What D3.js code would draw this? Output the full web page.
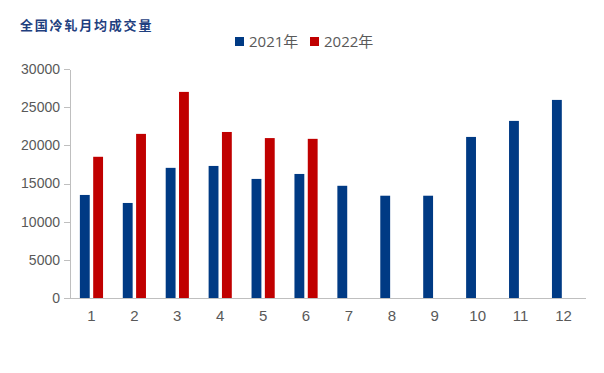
<!DOCTYPE html>
<html lang="zh">
  <head>
    <meta charset="UTF-8" />
    <style>
      body {
        margin: 0;
        background: #fff;
      }
      svg {
        font-family: "Open Sans", "Noto Sans CJK SC", sans-serif;
      }
      .axis text {
        fill: #595959;
        font-size: 14px;
      }
      .axis line,
      .axis path {
        stroke: #bfbfbf;
        shape-rendering: crispEdges;
      }
    </style>
    <script src="https://d3js.org/d3.v7.min.js"></script>
    <title>全国冷轧月均成交量</title>
  </head>
  <body>
    <script>
      var months = ["1", "2", "3", "4", "5", "6", "7", "8", "9", "10", "11", "12"];
      var seriesNames = ["2021年", "2022年"];
      var values2021 = [13500, 12450, 17050, 17300, 15600, 16250, 14700, 13400, 13400, 21100, 23200, 25950];
      var values2022 = [18500, 21500, 27000, 21750, 20950, 20850];
      var yTicks = [0, 5000, 10000, 15000, 20000, 25000, 30000];
      var colors = ["#003a84", "#c00000"];

      var width = 604,
        height = 373;
      var margin = { top: 69, right: 19, bottom: 75, left: 70 };
      var innerW = width - margin.left - margin.right,
        innerH = height - margin.top - margin.bottom;

      var svg = d3
        .select("body")
        .append("svg")
        .attr("width", width)
        .attr("height", height);

      // title
      svg
        .append("text")
        .attr("x", 20)
        .attr("y", 30)
        .style("font-family", "'Noto Sans CJK SC', sans-serif")
        .style("font-weight", "bold")
        .style("font-size", "13px")
        .style("letter-spacing", "1.8px")
        .style("fill", "#1f3f7f")
        .text("全国冷轧月均成交量");

      var g = svg
        .append("g")
        .attr("transform", "translate(" + margin.left + "," + margin.top + ")");

      var x0 = d3
        .scaleBand()
        .domain(months)
        .range([0, innerW])
        .paddingInner(0.46)
        .paddingOuter(0.23);

      var x1 = d3
        .scaleBand()
        .domain(seriesNames)
        .range([0, x0.bandwidth()])
        .paddingInner(0.26);

      var y = d3.scaleLinear().domain([0, 30000]).range([innerH, 0]);

      // y axis
      g.append("g")
        .attr("class", "axis")
        .call(d3.axisLeft(y).tickValues(yTicks).tickSize(6).tickSizeOuter(0).tickPadding(4).tickFormat(d3.format("d")));

      // bars
      var rows = months.map(function (m, i) {
        var r = [{ s: seriesNames[0], v: values2021[i] }];
        if (values2022[i] != null) r.push({ s: seriesNames[1], v: values2022[i] });
        return { m: m, r: r };
      });

      var grp = g
        .selectAll(".grp")
        .data(rows)
        .enter()
        .append("g")
        .attr("transform", function (d) {
          return "translate(" + x0(d.m) + ",0)";
        });

      grp
        .selectAll("rect")
        .data(function (d) {
          return d.r;
        })
        .enter()
        .append("rect")
        .attr("x", function (d) {
          return x1(d.s);
        })
        .attr("y", function (d) {
          return y(d.v);
        })
        .attr("width", x1.bandwidth())
        .attr("height", function (d) {
          return innerH - y(d.v);
        })
        .style("fill", function (d) {
          return colors[seriesNames.indexOf(d.s)];
        });

      // x axis
      var xa = g
        .append("g")
        .attr("class", "axis")
        .attr("transform", "translate(0," + innerH + ")")
        .call(d3.axisBottom(x0).tickSize(0).tickSizeOuter(0).tickPadding(12));
      xa.selectAll("text").style("font-size", "15px");

      // legend
      var legend = svg.append("g").attr("transform", "translate(235,37)");
      var lx = [0, 75];
      seriesNames.forEach(function (s, i) {
        var item = legend.append("g").attr("transform", "translate(" + lx[i] + ",0)");
        item.append("rect").attr("width", 9).attr("height", 9).style("fill", colors[i]);
        item
          .append("text")
          .attr("x", 14)
          .attr("y", 9.5)
          .style("font-size", "15px")
          .style("fill", "#595959")
          .text(s);
      });
    </script>
  </body>
</html>
